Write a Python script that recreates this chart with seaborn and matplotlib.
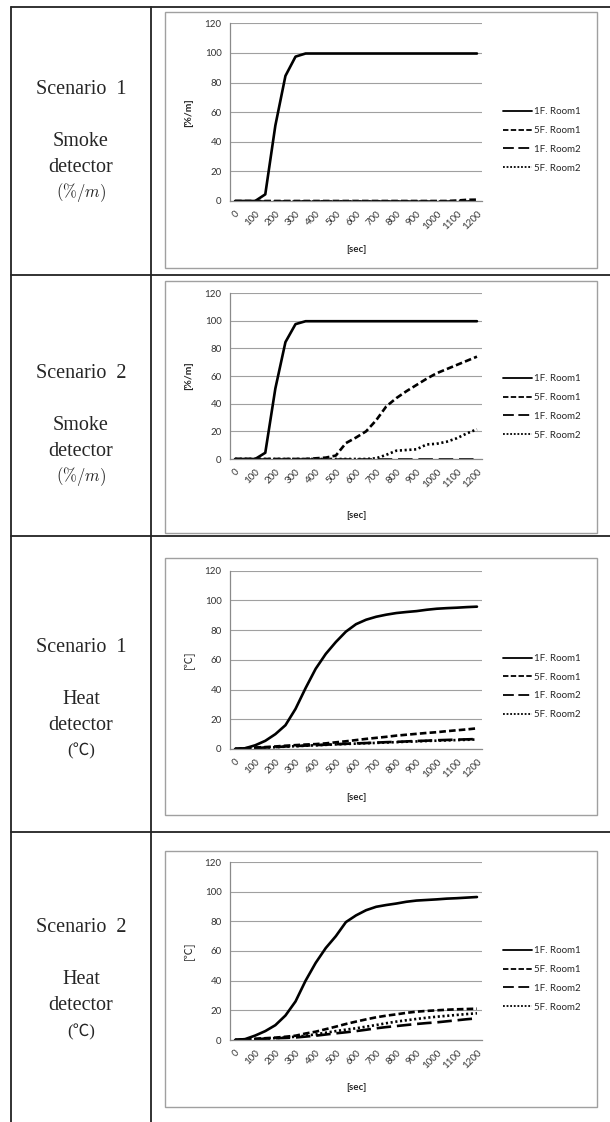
import pandas as pd
import seaborn as sns
import matplotlib
matplotlib.use("Agg")
import matplotlib.pyplot as plt
from matplotlib.lines import Line2D
from matplotlib.patches import Rectangle

W, H = 610, 1122

# time categories (sec)
sec = [0, 50, 100, 150, 200, 250, 300, 350, 400, 450, 500, 550, 600,
       650, 700, 750, 800, 850, 900, 950, 1000, 1050, 1100, 1150, 1200]
tick_labels = ["0", "100", "200", "300", "400", "500", "600", "700",
               "800", "900", "1000", "1100", "1200"]
series_names = ["1F. Room1", "5F. Room1", "1F. Room2", "5F. Room2"]

# Scenario 1 - smoke detector (%/m)
smoke1_1f_room1 = [0, 0, 0, 4.5, 51, 84.5, 97.5, 99.6, 99.6, 99.6, 99.6, 99.6, 99.6,
                   99.6, 99.6, 99.6, 99.6, 99.6, 99.6, 99.6, 99.6, 99.6, 99.6, 99.6, 99.6]
smoke1_5f_room1 = [0, 0, 0, 0, 0, 0, 0, 0, 0, 0, 0, 0, 0,
                   0, 0, 0, 0, 0, 0, 0, 0, 0, 0.3, 0.8, 0.9]
smoke1_1f_room2 = [0, 0, 0, 0, 0, 0, 0, 0, 0, 0, 0, 0, 0,
                   0, 0, 0, 0, 0, 0, 0, 0, 0, 0, 0, 0]
smoke1_5f_room2 = [0, 0, 0, 0, 0, 0, 0, 0, 0, 0, 0, 0, 0,
                   0, 0, 0, 0, 0, 0, 0, 0, 0, 0, 0, 0]

# Scenario 2 - smoke detector (%/m)
smoke2_1f_room1 = [0, 0, 0, 4.5, 51, 84.5, 97.5, 99.6, 99.6, 99.6, 99.6, 99.6, 99.6,
                   99.6, 99.6, 99.6, 99.6, 99.6, 99.6, 99.6, 99.6, 99.6, 99.6, 99.6, 99.6]
smoke2_5f_room1 = [0, 0, 0, 0, 0, 0, 0, 0, 0.5, 1.0, 2.5, 11.5, 15.5,
                   20, 28, 38, 44, 49, 53.5, 58, 62, 65, 68, 71, 74]
smoke2_1f_room2 = [0, 0, 0, 0, 0, 0, 0, 0, 0, 0, 0, 0, 0,
                   0, 0, 0, 0, 0, 0, 0, 0, 0, 0, 0, 0]
smoke2_5f_room2 = [0, 0, 0, 0, 0, 0, 0, 0, 0, 0, 0, 0, 0,
                   0, 0.5, 3, 6, 6.5, 7, 10.5, 11, 12.5, 15, 18.5, 21.5]

# Scenario 1 - heat detector (C)
heat1_1f_room1 = [0, 0.5, 2.5, 5.5, 10, 16, 27, 41, 54, 64, 72, 79, 84,
                  87, 89, 90.4, 91.5, 92.2, 92.8, 93.7, 94.4, 94.8, 95.1, 95.5, 95.8]
heat1_5f_room1 = [0, 0.5, 1.0, 1.3, 1.7, 2.2, 2.6, 3.0, 3.3, 3.8, 4.5, 5.2, 6.0,
                  6.8, 7.5, 8.2, 9.0, 9.6, 10.2, 10.8, 11.3, 12.0, 12.6, 13.2, 13.9]
heat1_1f_room2 = [0, 0.3, 0.7, 1.0, 1.3, 1.7, 2.0, 2.3, 2.6, 2.9, 3.2, 3.5, 3.8,
                  4.0, 4.3, 4.6, 4.8, 5.1, 5.4, 5.6, 5.9, 6.1, 6.3, 6.5, 6.7]
heat1_5f_room2 = [0, 0.3, 0.6, 0.9, 1.2, 1.6, 1.9, 2.2, 2.5, 2.8, 3.1, 3.4, 3.6,
                  3.9, 4.1, 4.4, 4.6, 4.9, 5.1, 5.4, 5.6, 5.8, 6.0, 6.2, 6.4]

# Scenario 2 - heat detector (C)
heat2_1f_room1 = [0, 0.6, 3, 6, 10, 16.5, 26, 40, 52, 62, 70, 79.5, 84,
                  87.5, 89.8, 91, 92, 93.2, 94, 94.4, 94.8, 95.3, 95.6, 96, 96.4]
heat2_5f_room1 = [0, 0.4, 0.8, 1.2, 1.6, 2.2, 2.9, 4.4, 5.6, 7.3, 9.0, 10.8, 12.4,
                  13.9, 15.3, 16.4, 17.3, 18.3, 19.1, 19.6, 20.0, 20.4, 20.7, 20.9, 21.1]
heat2_1f_room2 = [0, 0.3, 0.6, 0.9, 1.2, 1.4, 1.7, 2.3, 2.9, 3.7, 4.5, 5.2, 6.0,
                  6.9, 7.9, 8.7, 9.4, 10.1, 10.8, 11.4, 11.9, 12.6, 13.3, 14.0, 14.6]
heat2_5f_room2 = [0, 0.3, 0.6, 0.9, 1.3, 1.7, 2.2, 2.9, 3.8, 4.9, 6.0, 7.0, 7.9,
                  9.0, 10.1, 11.3, 12.4, 13.3, 14.2, 15.0, 15.7, 16.3, 16.9, 17.5, 18.0]

line_styles = ["-", (0, (2.5, 1.2)), (0, (5.5, 2.2)), (0, (0.8, 1.0))]
legend_styles = ["-", (0, (3, 1.3)), (0, (6, 2.5)), (0, (1, 1))]


def px_rect(x0, y0, x1, y1):
    return [x0 / W, 1 - y1 / H, (x1 - x0) / W, (y1 - y0) / H]


sns.set_style("white")
plt.rcParams["font.family"] = ["Lato", "DejaVu Sans"]

fig = plt.figure(figsize=(W / 100, H / 100), dpi=100)

# table grid
tcol = "#222222"
for y in [7, 275, 536, 832]:
    fig.add_artist(Line2D([11 / W, 1.0], [1 - y / H, 1 - y / H], color=tcol, lw=1.3))
for x in [11, 151]:
    fig.add_artist(Line2D([x / W, x / W], [1 - 7 / H, 0.0], color=tcol, lw=1.3))

charts = [
    dict(frame=(12, 268), plot=(23.3, 201), sec_y=250, ylabel="[%/m]", unit="smoke",
         data=[smoke1_1f_room1, smoke1_5f_room1, smoke1_1f_room2, smoke1_5f_room2],
         text=[("Scenario  1", 90), ("Smoke", 142), ("detector", 167), ("(%/m)", 193)]),
    dict(frame=(281, 533), plot=(293, 459), sec_y=515, ylabel="[%/m]", unit="smoke",
         data=[smoke2_1f_room1, smoke2_5f_room1, smoke2_1f_room2, smoke2_5f_room2],
         text=[("Scenario  2", 374), ("Smoke", 426), ("detector", 451), ("(%/m)", 477)]),
    dict(frame=(558, 815), plot=(570.7, 749), sec_y=797, ylabel="[℃]", unit="heat",
         data=[heat1_1f_room1, heat1_5f_room1, heat1_1f_room2, heat1_5f_room2],
         text=[("Scenario  1", 648), ("Heat", 700), ("detector", 725), ("(℃)", 751)]),
    dict(frame=(851, 1107), plot=(862, 1040), sec_y=1088, ylabel="[℃]", unit="heat",
         data=[heat2_1f_room1, heat2_5f_room1, heat2_1f_room2, heat2_5f_room2],
         text=[("Scenario  2", 928), ("Heat", 980), ("detector", 1005), ("(℃)", 1032)]),
]

ax_x0, ax_x1 = 230, 482

for ch in charts:
    fy0, fy1 = ch["frame"]
    fig.add_artist(Rectangle((165 / W, 1 - fy1 / H), (597 - 165) / W, (fy1 - fy0) / H,
                             transform=fig.transFigure, fill=False, ec="#a0a0a0", lw=1.0))

    py0, py1 = ch["plot"]
    ax = fig.add_axes(px_rect(ax_x0, py0, ax_x1, py1))

    rows = []
    for name, vals in zip(series_names, ch["data"]):
        for s, v in zip(sec, vals):
            rows.append({"sec": s, "value": v, "series": name})
    df = pd.DataFrame(rows)

    # draw last series first so the solid line stays on top
    for name, ls in reversed(list(zip(series_names, line_styles))):
        sns.lineplot(data=df[df["series"] == name], x="sec", y="value", ax=ax,
                     color="black", lw=1.9, linestyle=ls, legend=False)

    ax.set_xlim(-25, 1225)
    ax.set_ylim(0, 120)
    ax.set_yticks(range(0, 121, 20))
    ax.set_xticks(range(0, 1201, 100))
    ax.set_xticklabels(tick_labels, rotation=45, ha="right", va="top",
                       rotation_mode="anchor")
    ax.set_xticks(range(-25, 1226, 50), minor=True)
    ax.tick_params(axis="x", which="major", length=0, pad=6, labelsize=7,
                   labelcolor="#333333")
    ax.tick_params(axis="x", which="minor", length=3, direction="out", color="#888888")
    ax.tick_params(axis="y", length=3, direction="out", color="#888888", pad=3,
                   labelsize=7, labelcolor="#333333")
    ax.grid(axis="y", color="#a0a0a0", lw=0.8)
    ax.set_axisbelow(True)
    for side in ["top", "right"]:
        ax.spines[side].set_visible(False)
    for side in ["left", "bottom"]:
        ax.spines[side].set_color("#8a8a8a")
        ax.spines[side].set_linewidth(0.9)

    ph = py1 - py0
    ax.set_xlabel("[sec]", fontsize=7, fontweight="bold")
    ax.xaxis.set_label_coords(0.5, -(ch["sec_y"] - py1) / ph)
    ax.xaxis.label.set_verticalalignment("center")
    if ch["unit"] == "smoke":
        ax.set_ylabel(ch["ylabel"], fontsize=7.5, fontweight="bold")
    else:
        ax.set_ylabel(ch["ylabel"], fontsize=8, family=["Noto Sans CJK KR"])
    ax.yaxis.set_label_coords(-(ax_x0 - 189) / (ax_x1 - ax_x0), 0.5)
    ax.yaxis.label.set_verticalalignment("center")

    handles = [Line2D([0], [0], color="black", lw=1.3, linestyle=ls) for ls in legend_styles]
    fig.legend(handles, series_names, loc="center left",
               bbox_to_anchor=(499 / W, 1 - (fy0 + fy1) / 2 / H), frameon=False,
               fontsize=7, handlelength=3.0, handletextpad=0.2, labelspacing=1.0,
               borderaxespad=0)

    # left column description
    for txt, ty in ch["text"]:
        if txt == "(%/m)":
            fig.text(81 / W, 1 - ty / H, r"$(\%/m)$", ha="center", va="center",
                     fontsize=12, math_fontfamily="cm")
        elif txt == "(℃)":
            fig.text(81 / W, 1 - ty / H, txt, ha="center", va="center",
                     fontsize=12, family=["Liberation Serif", "Noto Sans CJK KR"])
        else:
            fig.text(81 / W, 1 - ty / H, txt, ha="center", va="center",
                     fontsize=14.5, family=["Liberation Serif", "DejaVu Serif"])

fig.savefig("out.png", dpi=100)
